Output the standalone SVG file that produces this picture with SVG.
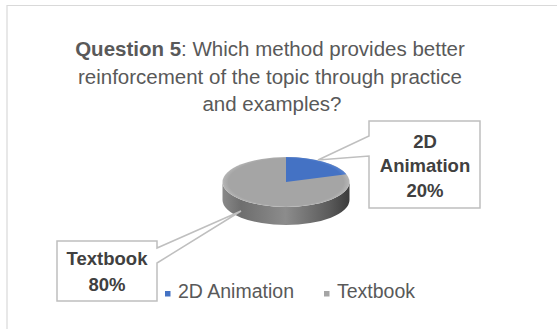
<svg xmlns="http://www.w3.org/2000/svg" width="557" height="329" viewBox="0 0 557 329">
<defs>
<linearGradient id="side" x1="222" y1="0" x2="349" y2="0" gradientUnits="userSpaceOnUse">
<stop offset="0" stop-color="#8a8a8a"/>
<stop offset="0.15" stop-color="#6e6e6e"/>
<stop offset="0.5" stop-color="#8c8c8c"/>
<stop offset="0.85" stop-color="#5a5a5a"/>
<stop offset="1" stop-color="#3c3c3c"/>
</linearGradient>
<radialGradient id="topg" cx="286" cy="182" r="64" gradientUnits="userSpaceOnUse" gradientTransform="translate(0 107.6) scale(1 0.409)">
<stop offset="0.9" stop-color="#a5a5a5"/>
<stop offset="1" stop-color="#b8b8b8"/>
</radialGradient>
<radialGradient id="blueg" cx="286" cy="182" r="64" gradientUnits="userSpaceOnUse" gradientTransform="translate(0 107.6) scale(1 0.409)">
<stop offset="0.9" stop-color="#4472c4"/>
<stop offset="1" stop-color="#5a86d4"/>
</radialGradient>
</defs>
<style>
.title{font-family:"Liberation Sans",Arial,sans-serif;font-size:20.5px;fill:#595959;text-anchor:middle}
.lbl{font-family:"Liberation Sans",Arial,sans-serif;font-size:18.5px;font-weight:bold;fill:#404040;text-anchor:middle}
.leg{font-family:"Liberation Sans",Arial,sans-serif;font-size:19.5px;fill:#595959}
.callout{fill:#ffffff;stroke:#bfbfbf;stroke-width:1.5}
</style>
<rect width="557" height="329" fill="#ffffff"/>
<path d="M7 329 V5.5 H557" fill="none" stroke="#d9d9d9" stroke-width="1.2"/>
<g id="title">
<text class="title" x="270" y="56"><tspan font-weight="bold">Question 5</tspan>: Which method provides better</text>
<text class="title" x="270" y="84">reinforcement of the topic through practice</text>
<text class="title" x="272" y="111">and examples?</text>
</g>
<g id="pie">
<path d="M222.5 182 A63.5 25 0 0 0 349.5 182 V200 A63.5 25 0 0 1 222.5 200 Z" fill="url(#side)"/>
<ellipse cx="286" cy="182" rx="63.5" ry="25" fill="url(#topg)"/>
<path d="M286 182 V157 A63.5 25 0 0 1 346.4 174.3 Z" fill="url(#blueg)"/>
</g>
<g id="connectors">
<polygon class="callout" points="369,121 480,121 480,208 369,208 369,156 318,160 369,136"/>
<polygon class="callout" points="57,241 157,241 157,248 241,211 157,263 157,301 57,301"/>
</g>
<g id="label-2d">
<text class="lbl" x="425" y="148">2D</text>
<text class="lbl" x="425" y="172">Animation</text>
<text class="lbl" x="425" y="197">20%</text>
</g>
<g id="label-textbook">
<text class="lbl" x="107" y="265">Textbook</text>
<text class="lbl" x="107" y="291">80%</text>
</g>
<g id="legend">
<rect x="165" y="291" width="5.5" height="5.5" fill="#4472c4"/>
<text class="leg" x="178" y="298">2D Animation</text>
<rect x="324" y="291" width="5.5" height="5.5" fill="#a5a5a5"/>
<text class="leg" x="337" y="298">Textbook</text>
</g>
</svg>
